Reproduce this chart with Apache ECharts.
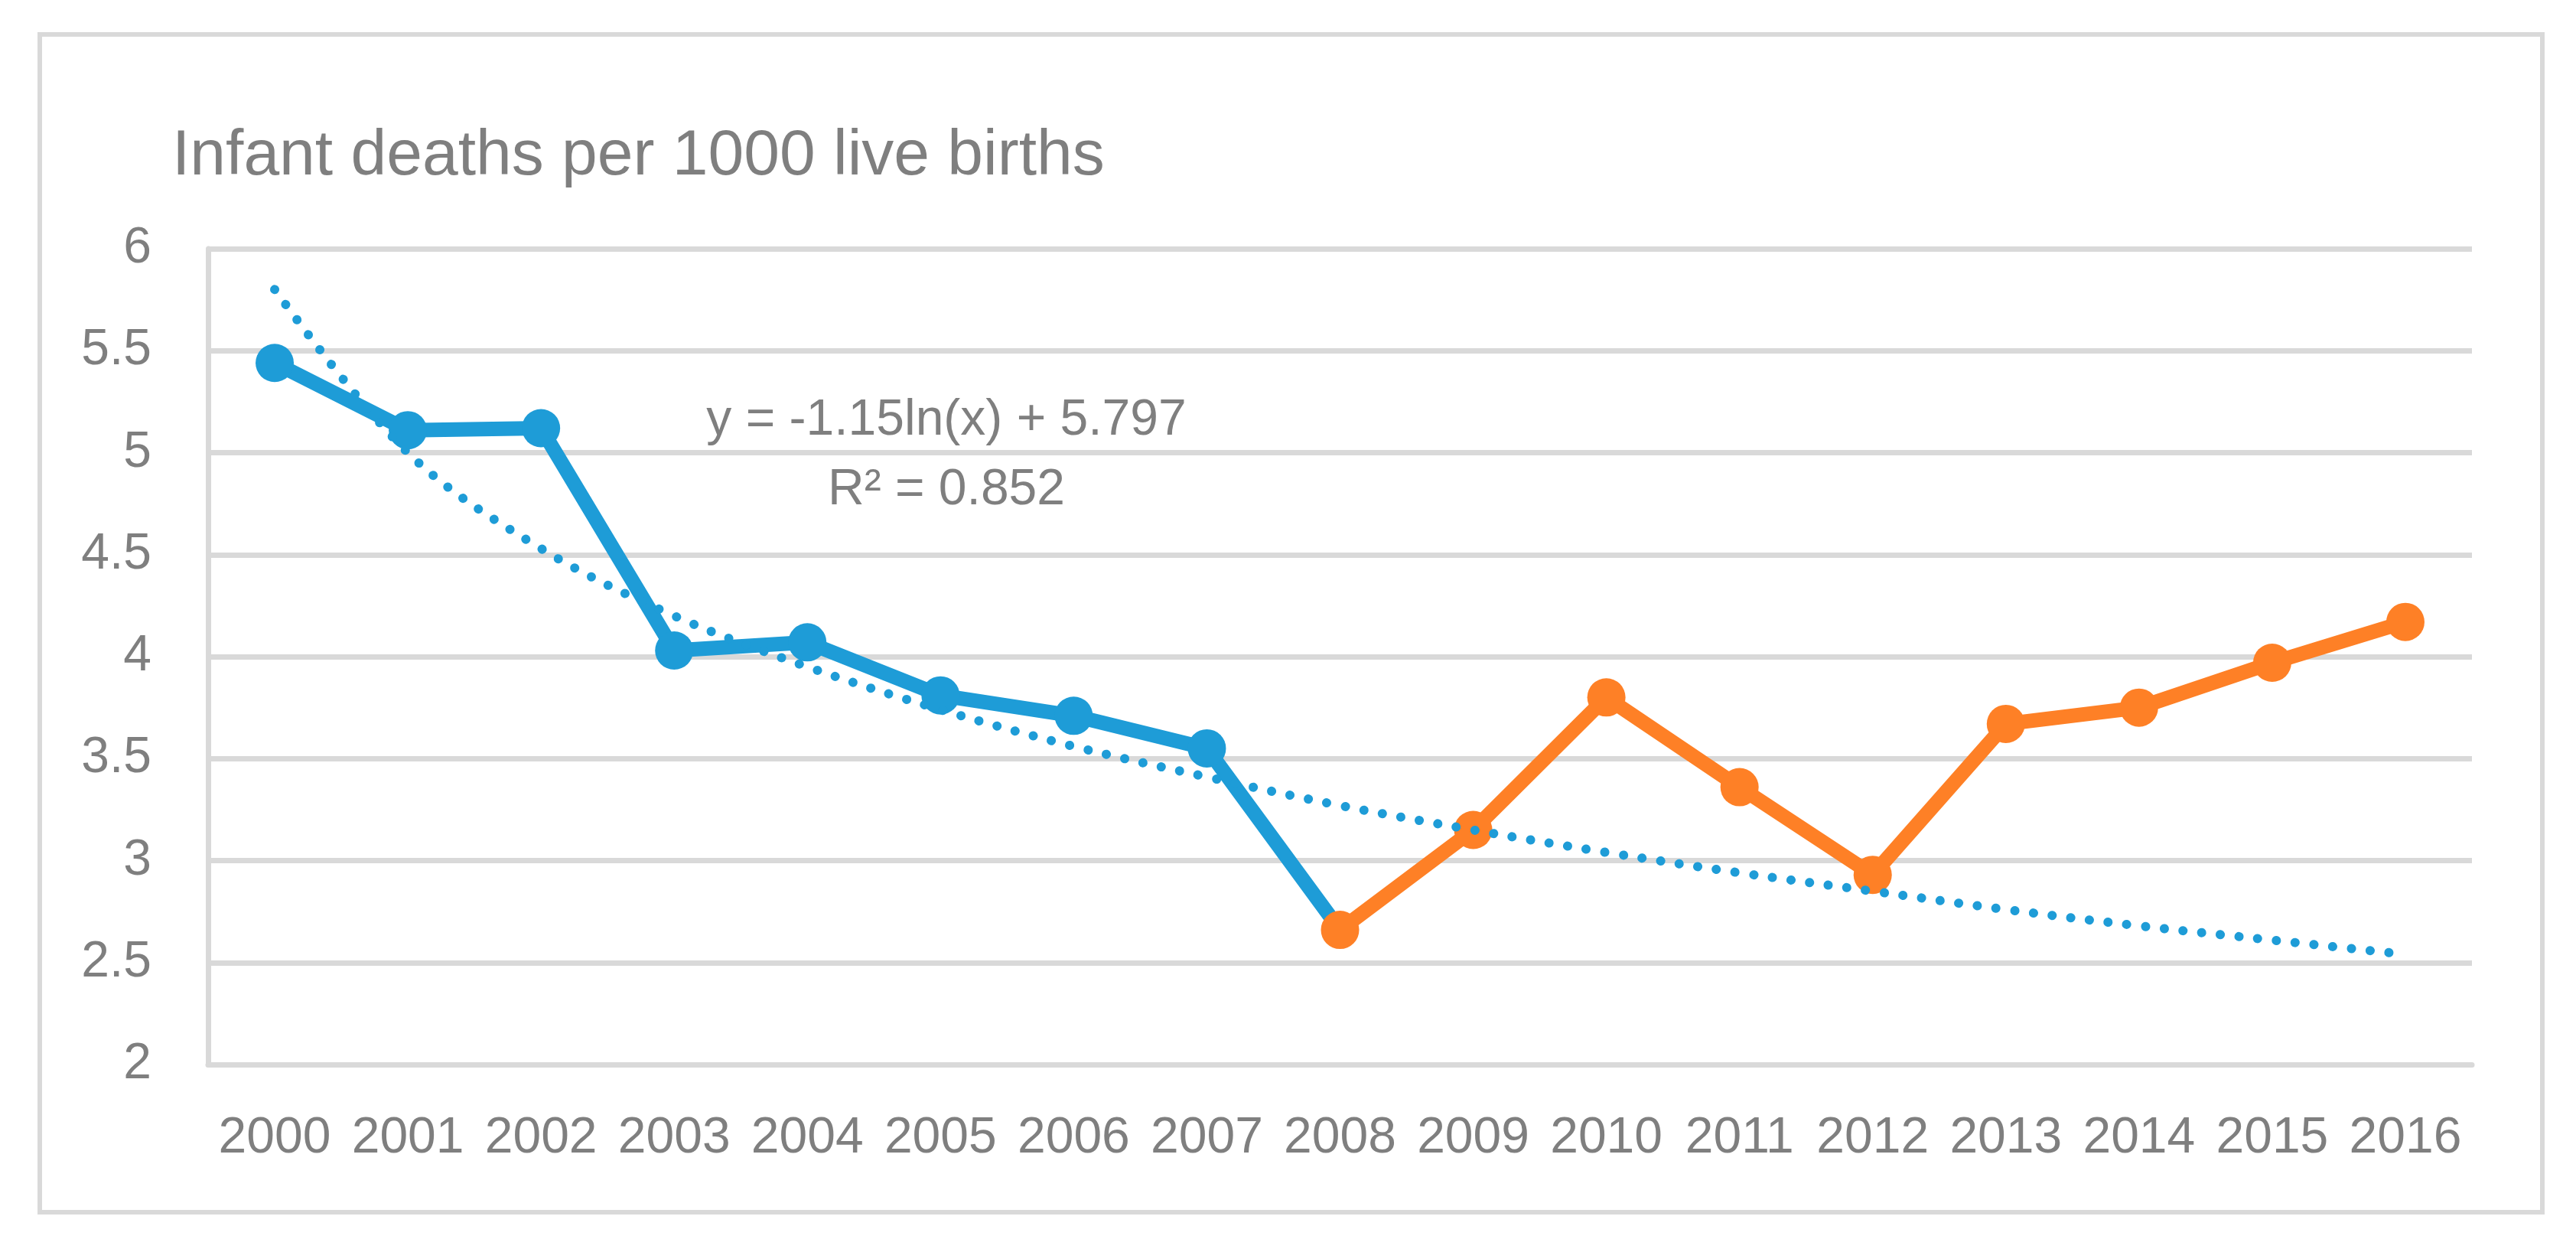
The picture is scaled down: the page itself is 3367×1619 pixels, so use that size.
<!DOCTYPE html>
<html>
<head>
<meta charset="utf-8">
<script src="https://cdn.jsdelivr.net/npm/echarts@6/dist/echarts.min.js"></script>
<style>
html,body{margin:0;padding:0;background:#fff;}
#chart{width:3367px;height:1619px;}
</style>
</head>
<body>
<div id="chart"></div>
<script>
// ---- data ----
const years = ['2000','2001','2002','2003','2004','2005','2006','2007','2008','2009','2010','2011','2012','2013','2014','2015','2016'];
// blue segment: 2000..2008
const blueValues = [5.44, 5.11, 5.12, 4.03, 4.07, 3.81, 3.71, 3.55, 2.66];
// orange segment: 2008..2016
const orangeValues = [2.66, 3.15, 3.80, 3.36, 2.93, 3.67, 3.75, 3.97, 4.17];
// logarithmic trendline as drawn, read at each year
const trendValues = [5.80, 5.00, 4.53, 4.20, 3.95, 3.74, 3.56, 3.41, 3.27, 3.15, 3.04, 2.94, 2.85, 2.76, 2.68, 2.61, 2.54];
const yTicks = { min: 2, max: 6, interval: 0.5 };
const titleText = 'Infant deaths per 1000 live births';
const trendLabel = 'y = -1.15ln(x) + 5.797\nR\u00B2 = 0.852';

// ---- build series arrays ----
const blueStart = 0;
const orangeStart = years.indexOf('2008');
const blueData = years.map((y, i) => {
  const k = i - blueStart;
  if (k < 0 || k >= blueValues.length) return null;
  const v = blueValues[k];
  // the last blue point is covered by the orange marker
  return k === blueValues.length - 1 ? { value: v, symbol: 'none' } : v;
});
const orangeData = years.map((y, i) => {
  const k = i - orangeStart;
  return (k < 0 || k >= orangeValues.length) ? null : orangeValues[k];
});

const BLUE = '#1E9CD7';
const ORANGE = '#FE8026';
const GRID = '#D9D9D9';
const TXT = '#7F7F7F';
const FONT = 'Liberation Sans';

const chart = echarts.init(document.getElementById('chart'));
chart.setOption({
  animation: false,
  backgroundColor: '#fff',
  title: {
    text: titleText,
    left: 220,
    top: 158,
    textStyle: { color: TXT, fontSize: 84, fontWeight: 'normal', fontFamily: FONT }
  },
  grid: { left: 272, right: 136, top: 325, bottom: 228, containLabel: false },
  xAxis: {
    type: 'category',
    data: years,
    boundaryGap: true,
    axisLine: { show: true, lineStyle: { color: GRID, width: 7 } },
    axisTick: { show: false },
    axisLabel: { color: TXT, fontSize: 66, fontFamily: FONT, margin: 64, interval: 0 },
    splitLine: { show: false }
  },
  yAxis: {
    type: 'value',
    min: yTicks.min, max: yTicks.max, interval: yTicks.interval,
    axisLine: { show: true, lineStyle: { color: GRID, width: 7 } },
    axisTick: { show: false },
    axisLabel: { color: TXT, fontSize: 66, fontFamily: FONT, margin: 74 },
    splitLine: { show: true, lineStyle: { color: GRID, width: 7 } }
  },
  series: [
    {
      type: 'line', data: blueData, connectNulls: false,
      symbol: 'circle', symbolSize: 50,
      lineStyle: { color: BLUE, width: 19 },
      itemStyle: { color: BLUE },
      z: 2
    },
    {
      type: 'line', data: orangeData, connectNulls: false,
      symbol: 'circle', symbolSize: 50,
      lineStyle: { color: ORANGE, width: 19 },
      itemStyle: { color: ORANGE },
      z: 3
    },
    {
      type: 'line', data: trendValues, smooth: 0.35,
      symbol: 'none',
      lineStyle: { color: BLUE, width: 12, type: [0.1, 24.5], cap: 'round' },
      z: 4
    }
  ],
  graphic: [
    {
      type: 'rect', silent: true,
      shape: { x: 52, y: 45, width: 3271, height: 1539 },
      style: { fill: 'none', stroke: GRID, lineWidth: 6 },
      z: 0
    },
    {
      type: 'text', silent: true,
      x: 1237, y: 504,
      style: {
        text: trendLabel, fill: TXT, fontSize: 66, fontFamily: FONT,
        align: 'center', verticalAlign: 'top', lineHeight: 91
      },
      z: 10
    }
  ]
});
</script>
</body>
</html>
